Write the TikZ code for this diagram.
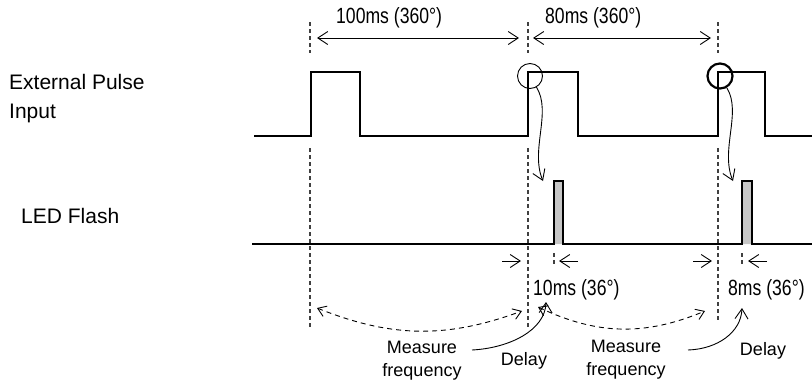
\documentclass[tikz,border=0pt]{standalone}
\usepackage{fontspec}
\setmainfont{Liberation Sans}
\usetikzlibrary{arrows.meta}
\newcommand{\narrowtxt}[1]{\scalebox{0.8}[1]{#1}}
\begin{document}
\begin{tikzpicture}[x=1pt, y=-1pt,
  sig/.style={line width=2.6pt, line join=miter},
  guide/.style={line width=1.1pt, dash pattern=on 4pt off 3pt, black!75},
  dimarr/.style={line width=0.9pt, {Straight Barb[length=10pt,width=13pt]}-{Straight Barb[length=10pt,width=13pt]}},
  spanarr/.style={line width=0.9pt, dash pattern=on 5pt off 4pt, {Straight Barb[length=8pt,width=11pt]}-{Straight Barb[length=8pt,width=11pt]}},
  tiparr/.style={line width=0.9pt, -{Straight Barb[length=10pt,width=13pt]}},
  lbl/.style={font=\fontsize{18}{23}\selectfont, inner sep=0pt},
  msl/.style={font=\fontsize{22}{26}\selectfont, inner sep=0pt, anchor=base west},
  big/.style={font=\fontsize{21}{29}\selectfont, inner sep=0pt, anchor=north west}]
  \useasboundingbox (0,0) rectangle (812,389);
  \node[big, align=left] (ext) at (9,74) {External Pulse\\Input};
  \node[big] (led) at (21,208) {LED Flash};
  % signals
  \draw[sig] (254,136) -- (311,136) -- (311,72) -- (360,72) -- (360,136) -- (528,136) -- (528,72) -- (578,72)
    -- (578,136) -- (718,136) -- (718,72) -- (765,72) -- (765,136) -- (812,136);
  \draw[sig, fill=gray!45] (252,244) -- (554,244) -- (554,181) -- (563,181) -- (563,244) -- (742,244)
    -- (742,181) -- (752,181) -- (752,244) -- (812,244);
  % guides
  \foreach \n/\x/\b in {a/310/327,b/528/327,c/718/322} {
    \coordinate (top\n) at (\x,38);
    \draw[guide] (\x,22) -- (\x,53);
    \draw[guide] (\x,148) -- (\x,\b);
  }
  \foreach \x in {554,742}
    \draw[guide] (\x,253) -- (\x,266);
  % periods
  \draw[dimarr, shorten <=7pt, shorten >=9pt] (topa) -- (topb);
  \draw[dimarr, shorten <=5pt, shorten >=7pt] (topb) -- (topc);
  \node[msl] (per1) at (336,23) {\narrowtxt{100ms (360°)}};
  \node[msl] (per2) at (545,23) {\narrowtxt{80ms (360°)}};
  % edge detection
  \node[circle, draw, line width=0.9pt, minimum size=25pt, inner sep=0pt] (det1) at (530,76) {};
  \node[circle, draw, line width=2.2pt, minimum size=25pt, inner sep=0pt] (det2) at (720,76) {};
  \coordinate (fl1) at (543,181);
  \coordinate (fl2) at (733,181);
  \draw[tiparr] (det1.-60) .. controls (552,112) and (530,150) .. (fl1);
  \draw[tiparr] (det2.-60) .. controls (742,112) and (720,150) .. (fl2);
  % delays
  \coordinate (d1a) at (502,261); \coordinate (d1b) at (521,261);
  \coordinate (d1c) at (578,261); \coordinate (d1d) at (559,261);
  \coordinate (d2a) at (693,261); \coordinate (d2b) at (712,261);
  \coordinate (d2c) at (767,261); \coordinate (d2d) at (748,261);
  \draw[tiparr] (d1a) -- (d1b);
  \draw[tiparr] (d1c) -- (d1d);
  \draw[tiparr] (d2a) -- (d2b);
  \draw[tiparr] (d2c) -- (d2d);
  \node[msl] (del1) at (533,295) {\narrowtxt{10ms (36°)}};
  \node[msl] (del2) at (728,295) {\narrowtxt{8ms (36°)}};
  % measuring spans
  \coordinate (m1l) at (317,308); \coordinate (m1r) at (522,311);
  \coordinate (m2l) at (538,307); \coordinate (m2r) at (705,311);
  \draw[spanarr] (m1l) to[bend right=21] (m1r);
  \draw[spanarr] (m2l) to[bend right=24] (m2r);
  \node[lbl, align=center, anchor=north] (mf1) at (422,341) {Measure\\frequency};
  \node[lbl, align=center, anchor=north] (mf2) at (626,340) {Measure\\frequency};
  \node[lbl, anchor=base] (dl1) at (524,365) {Delay};
  \node[lbl, anchor=base] (dl2) at (763,355) {Delay};
  \coordinate (s1) at (472,350); \coordinate (s2) at (688,350);
  \draw[tiparr] (s1) .. controls (510,348) and (545,330) .. (546,302) coordinate (e1);
  \draw[tiparr] (s2) .. controls (718,349) and (741,332) .. (742,308) coordinate (e2);
\end{tikzpicture}
\end{document}
